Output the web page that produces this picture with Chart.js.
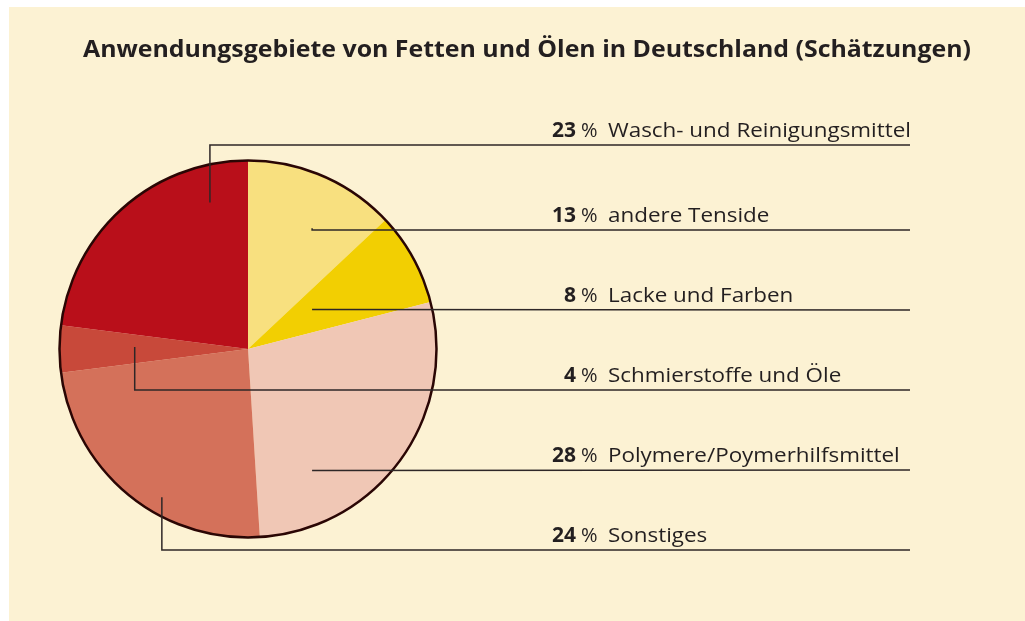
<!DOCTYPE html>
<html lang="de">
<head>
<meta charset="utf-8">
<script src="https://cdn.jsdelivr.net/npm/chart.js@4/dist/chart.umd.min.js"></script>
<style>
  html, body { margin: 0; padding: 0; background: #fff; }
  #wrap { width: 1025px; height: 621px; }
</style>
</head>
<body>
<div id="wrap"><canvas id="pie" width="1025" height="621"></canvas></div>
<script>
// data, clockwise from 12 o'clock
const categories = ['andere Tenside', 'Lacke und Farben', 'Polymere/Poymerhilfsmittel', 'Sonstiges', 'Schmierstoffe und Öle', 'Wasch- und Reinigungsmittel'];
const shares = [13, 8, 28, 24, 4, 23];
const sliceColors = ['#F8E07F', '#F2CF02', '#F0C7B5', '#D4715A', '#C8493A', '#B90F1A'];

// label rows top to bottom (index into categories)
const labelOrder = [5, 0, 1, 4, 2, 3];

// leader line layout: anchor inside slice (fraction of radius from centre) and row line y
const leaders = [
    { ax: -0.202, ay: -0.777, rowY: 145 },
    { ax: 0.34, ay: -0.64, rowY: 230 },
    { ax: 0.34, ay: -0.21, rowY: 310 },
    { ax: -0.601, ay: -0.01, rowY: 390 },
    { ax: 0.34, ay: 0.645, rowY: 470 },
    { ax: -0.457, ay: 0.787, rowY: 550 }
];

const titleText = 'Anwendungsgebiete von Fetten und Ölen in Deutschland (Schätzungen)';
const ink = '#231f20';

const backdrop = {
    id: 'backdrop',
    beforeDraw(chart) {
        const ctx = chart.ctx;
        ctx.save();
        ctx.fillStyle = '#fff';
        ctx.fillRect(0, 0, chart.width, chart.height);
        ctx.fillStyle = '#FCF2D3';
        ctx.fillRect(9, 7, chart.width - 9, chart.height - 7);
        ctx.restore();
    }
};

// draw text squeezed/stretched to a given width
function fitText(ctx, text, x, y, width) {
    const w = ctx.measureText(text).width;
    ctx.save();
    ctx.translate(x, y);
    ctx.scale(width / w, 1);
    ctx.fillText(text, 0, 0);
    ctx.restore();
}

const decorations = {
    id: 'decorations',
    afterDraw(chart) {
        const ctx = chart.ctx;
        const arc = chart.getDatasetMeta(0).data[0];
        const cx = arc.x, cy = arc.y, r = arc.outerRadius;
        ctx.save();

        // outline round the pie
        ctx.beginPath();
        ctx.arc(cx, cy, r, 0, Math.PI * 2);
        ctx.lineWidth = 2.5;
        ctx.strokeStyle = '#2A0604';
        ctx.stroke();

        // title
        ctx.fillStyle = ink;
        ctx.font = 'bold 24px "Open Sans"';
        ctx.textBaseline = 'alphabetic';
        ctx.textAlign = 'left';
        fitText(ctx, titleText, 83, 57, 888);

        // label font is a bit wider than Open Sans, stretch to match
        ctx.font = '20px "Open Sans"';
        const stretch = 303 / ctx.measureText('Wasch- und Reinigungsmittel').width;

        // leader lines and labels
        ctx.lineWidth = 1.5;
        ctx.strokeStyle = '#2e2727';
        labelOrder.forEach((idx, row) => {
            const l = leaders[row];
            const x0 = cx + l.ax * r, y0 = cy + l.ay * r;
            ctx.beginPath();
            ctx.moveTo(x0, y0);
            if (Math.abs(y0 - l.rowY) > 1) ctx.lineTo(x0, l.rowY);
            ctx.lineTo(910, l.rowY);
            ctx.stroke();

            const base = l.rowY - 8;
            ctx.fillStyle = ink;
            ctx.font = 'bold 21px "Open Sans"';
            ctx.textAlign = 'right';
            ctx.fillText(String(shares[idx]), 576, base);
            ctx.font = '20px "Open Sans"';
            ctx.textAlign = 'left';
            ctx.fillText('%', 581, base);
            const name = categories[idx];
            fitText(ctx, name, 608, base, ctx.measureText(name).width * stretch);
        });
        ctx.restore();
    }
};

new Chart(document.getElementById('pie'), {
    type: 'pie',
    data: {
        labels: categories,
        datasets: [{
            data: shares,
            backgroundColor: sliceColors,
            borderWidth: 0
        }]
    },
    options: {
        responsive: false,
        animation: false,
        layout: {
            padding: { left: 59.5, right: 588.5, top: 160.5, bottom: 83.5 }
        },
        plugins: {
            legend: { display: false },
            tooltip: { enabled: false }
        }
    },
    plugins: [backdrop, decorations]
});
</script>
</body>
</html>
